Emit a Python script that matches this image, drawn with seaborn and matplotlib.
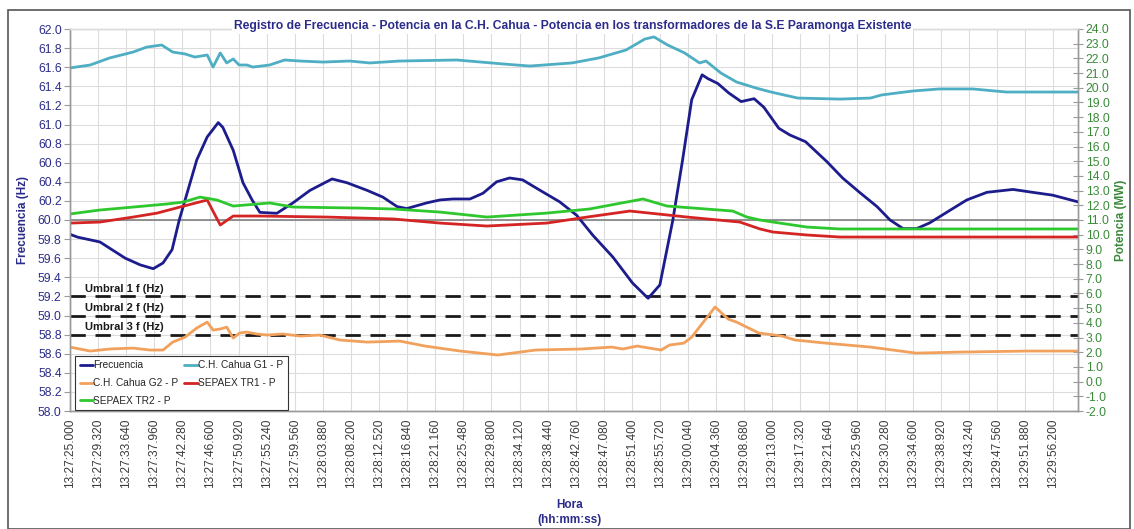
import numpy as np
import pandas as pd
from matplotlib import pyplot as plt
import matplotlib.patches as patches
from matplotlib.lines import Line2D
import seaborn as sns

sns.set_style('white')
plt.rcParams['font.family'] = ['Liberation Sans', 'DejaVu Sans']

# Time axis (seconds after 13:27:25.000) and the category labels shown by Excel
tick_labels = ['13:27:25.000', '13:27:29.320', '13:27:33.640', '13:27:37.960', '13:27:42.280',
               '13:27:46.600', '13:27:50.920', '13:27:55.240', '13:27:59.560', '13:28:03.880',
               '13:28:08.200', '13:28:12.520', '13:28:16.840', '13:28:21.160', '13:28:25.480',
               '13:28:29.800', '13:28:34.120', '13:28:38.440', '13:28:42.760', '13:28:47.080',
               '13:28:51.400', '13:28:55.720', '13:29:00.040', '13:29:04.360', '13:29:08.680',
               '13:29:13.000', '13:29:17.320', '13:29:21.640', '13:29:25.960', '13:29:30.280',
               '13:29:34.600', '13:29:38.920', '13:29:43.240', '13:29:47.560', '13:29:51.880',
               '13:29:56.200']
tick_step = 4.32
t_end = 155.0

# Frecuencia (Hz)
freq_t = [0.0, 1.2, 4.6, 8.5, 10.8, 12.8, 14.3, 15.7, 16.8, 17.7, 19.5, 21.1, 22.8, 23.5, 25.1,
          26.6, 28.0, 29.2, 31.8, 34.3, 36.9, 40.3, 42.6, 45.7, 48.1, 50.3, 51.8, 54.9, 56.9,
          58.9, 61.5, 63.5, 65.6, 67.6, 69.6, 72.3, 75.3, 77.9, 80.4, 83.5, 86.5, 88.9, 90.7,
          92.7, 94.2, 95.6, 97.2, 98.1, 99.6, 101.3, 103.2, 105.2, 106.7, 109.0, 110.7, 113.1,
          116.4, 118.8, 121.4, 124.1, 126.1, 128.1, 130.2, 132.2, 134.8, 137.9, 141.0, 145.0,
          148.0, 151.1, 155.0]
freq_v = [59.85, 59.82, 59.77, 59.60, 59.53, 59.49, 59.55, 59.69, 60.00, 60.21, 60.63, 60.87,
          61.02, 60.97, 60.73, 60.39, 60.21, 60.08, 60.07, 60.18, 60.31, 60.43, 60.39, 60.31,
          60.24, 60.14, 60.12, 60.18, 60.21, 60.22, 60.22, 60.28, 60.40, 60.44, 60.42, 60.31,
          60.19, 60.05, 59.84, 59.61, 59.34, 59.18, 59.32, 60.00, 60.63, 61.26, 61.52, 61.48,
          61.43, 61.33, 61.24, 61.27, 61.18, 60.96, 60.89, 60.82, 60.61, 60.44, 60.29, 60.14,
          60.00, 59.91, 59.91, 59.97, 60.08, 60.21, 60.29, 60.32, 60.29, 60.26, 60.19]

# C.H. Cahua G1 - P (MW)
g1_t = [0.0, 3.1, 6.1, 9.7, 11.8, 14.1, 15.8, 17.7, 19.2, 21.1, 22.0, 23.1, 24.1, 25.1, 26.0,
        27.2, 28.1, 30.7, 33.0, 35.4, 38.9, 43.0, 46.1, 50.7, 59.5, 66.6, 70.7, 77.2, 81.3,
        85.5, 88.4, 89.8, 91.9, 94.5, 96.8, 97.8, 100.1, 102.5, 105.5, 107.8, 111.9, 118.4,
        123.1, 124.8, 129.6, 133.7, 138.8, 144.0, 149.1, 155.0]
g1_v = [21.35, 21.55, 22.03, 22.43, 22.77, 22.91, 22.43, 22.30, 22.09, 22.23, 21.41, 22.37,
        21.69, 21.96, 21.55, 21.55, 21.41, 21.55, 21.89, 21.82, 21.75, 21.82, 21.69, 21.82,
        21.89, 21.62, 21.48, 21.69, 22.03, 22.57, 23.32, 23.46, 22.91, 22.37, 21.69, 21.82,
        21.00, 20.39, 19.98, 19.71, 19.30, 19.23, 19.30, 19.51, 19.78, 19.92, 19.92, 19.71,
        19.71, 19.71]

# C.H. Cahua G2 - P (MW)
g2_t = [0.0, 3.1, 6.1, 9.7, 12.3, 14.3, 15.8, 17.7, 19.5, 21.1, 22.0, 23.1, 24.1, 25.1, 26.1,
        27.2, 28.7, 30.3, 32.7, 35.4, 38.4, 41.5, 45.7, 50.7, 54.6, 60.0, 65.8, 71.6, 78.6,
        83.3, 85.0, 87.2, 90.9, 92.2, 94.4, 95.6, 99.2, 101.2, 102.5, 105.9, 109.5, 111.5,
        116.2, 123.1, 130.1, 136.8, 147.1, 155.0]
g2_v = [2.35, 2.08, 2.22, 2.28, 2.15, 2.15, 2.69, 3.03, 3.65, 4.05, 3.51, 3.58, 3.71, 2.97,
        3.31, 3.37, 3.24, 3.17, 3.24, 3.10, 3.17, 2.83, 2.69, 2.76, 2.42, 2.08, 1.81, 2.15,
        2.22, 2.35, 2.22, 2.42, 2.15, 2.49, 2.62, 3.03, 5.08, 4.26, 4.05, 3.31, 3.10, 2.83,
        2.62, 2.35, 1.94, 2.01, 2.08, 2.08]

# SEPAEX TR1 - P (MW)
tr1_t = [0.0, 4.6, 9.7, 13.4, 16.9, 21.1, 23.1, 25.1, 29.2, 39.5, 49.7, 56.9, 64.1, 73.3,
         79.5, 86.1, 94.9, 103.0, 106.1, 108.1, 113.3, 118.4, 155.0]
tr1_v = [10.79, 10.86, 11.20, 11.47, 11.88, 12.36, 10.66, 11.27, 11.27, 11.20, 11.07, 10.79,
         10.59, 10.79, 11.20, 11.61, 11.20, 10.86, 10.39, 10.18, 9.98, 9.84, 9.84]

# SEPAEX TR2 - P (MW)
tr2_t = [0.0, 4.6, 9.7, 14.9, 17.4, 20.0, 22.6, 25.1, 30.7, 34.3, 44.6, 49.7, 56.9, 64.1,
         73.3, 79.9, 88.1, 91.8, 101.9, 104.1, 106.1, 108.1, 113.3, 118.4, 155.0]
tr2_v = [11.41, 11.68, 11.88, 12.09, 12.22, 12.56, 12.36, 11.95, 12.16, 11.88, 11.81, 11.75,
         11.54, 11.20, 11.47, 11.75, 12.43, 11.95, 11.61, 11.20, 11.00, 10.86, 10.52, 10.39,
         10.39]

# Umbrales de frecuencia (Hz)
umbral_names = ['Umbral 1 f (Hz)', 'Umbral 2 f (Hz)', 'Umbral 3 f (Hz)']
umbral_values = [59.2, 59.0, 58.8]

c_freq = '#1c1c8c'
c_g1 = '#4eaec4'
c_g2 = '#f2a15c'
c_tr1 = '#d42424'
c_tr2 = '#2ec82e'
c_blue_txt = '#2b2b8a'
c_green_txt = '#3a8a3a'

fig = plt.figure(figsize=(11.34, 5.29), dpi=100)
ax = fig.add_axes([70 / 1134, 1 - 411 / 529, 1008 / 1134, 382 / 529])
ax2 = ax.twinx()

# outer frame of the chart
fig.patches.append(patches.Rectangle((8 / 1134, 0.0), 1122 / 1134, 1 - 10 / 529,
                                     transform=fig.transFigure, fill=False,
                                     edgecolor='#555555', linewidth=1.2))

# grid
xticks = np.arange(len(tick_labels)) * tick_step
ax.set_xticks(xticks)
ax.set_xticklabels(tick_labels, rotation=90, fontsize=8.6, color='#3a3a3a')
ax.set_yticks(np.round(np.arange(58.0, 62.01, 0.2), 1))
ax.set_yticklabels([f'{v:.1f}' for v in np.arange(58.0, 62.01, 0.2)], fontsize=8.7, color=c_blue_txt)
ax.grid(True, color='#dcdcdc', linewidth=0.8)
ax.set_axisbelow(True)
ax.set_xlim(0, t_end)
ax.set_ylim(58.0, 62.0)

ax.axhline(60.0, color='#808080', linewidth=1.2, zorder=2)
for name, val in zip(umbral_names, umbral_values):
    ax.axhline(val, color='#1a1a1a', linewidth=2, linestyle=(0, (5.5, 3.5)), zorder=2)
    ax.text(2.3, val + 0.025, name, fontsize=8, fontweight='bold', color='#1a1a1a',
            ha='left', va='bottom')

sns.lineplot(x=freq_t, y=freq_v, ax=ax, color=c_freq, linewidth=2, legend=False, zorder=3)

df_p = pd.DataFrame({'t': g1_t, 'v': g1_v})
sns.lineplot(data=df_p, x='t', y='v', ax=ax2, color=c_g1, linewidth=2, legend=False)
sns.lineplot(x=g2_t, y=g2_v, ax=ax2, color=c_g2, linewidth=2, legend=False)
sns.lineplot(x=tr1_t, y=tr1_v, ax=ax2, color=c_tr1, linewidth=2, legend=False)
sns.lineplot(x=tr2_t, y=tr2_v, ax=ax2, color=c_tr2, linewidth=2, legend=False)

ax2.set_ylim(-2, 24)
ax2.set_yticks(np.arange(-2, 25, 1))
ax2.set_yticklabels([f'{v:.1f}' for v in np.arange(-2, 25, 1)], fontsize=8.7, color=c_green_txt)
ax2.set_xlim(0, t_end)

ax.set_xlabel('')
ax.set_ylabel('Frecuencia (Hz)', fontsize=8.5, fontweight='bold', color=c_blue_txt, labelpad=6)
ax2.set_ylabel('Potencia (MW)', fontsize=8.5, fontweight='bold', color=c_green_txt,
               rotation=90, labelpad=4)

for a in (ax, ax2):
    for s in a.spines.values():
        s.set_color('#9a9a9a')
        s.set_linewidth(1)
    a.spines['top'].set_color('#dcdcdc')
ax.tick_params(axis='y', direction='out', length=4, color='#9a9a9a', pad=2)
ax.tick_params(axis='x', direction='inout', length=5, color='#9a9a9a', pad=3)
ax2.tick_params(axis='y', direction='inout', length=7, color='#9a9a9a', pad=2)

fig.text(0.505, 1 - 26 / 529, 'Registro de Frecuencia - Potencia en la C.H. Cahua - Potencia en los transformadores de la S.E Paramonga Existente',
         ha='center', va='center', fontsize=8.7, fontweight='bold', color=c_blue_txt,
         bbox=dict(facecolor='white', edgecolor='none', pad=1.5))
fig.text(0.502, 1 - 505 / 529, 'Hora', ha='center', va='center', fontsize=8.5,
         fontweight='bold', color=c_blue_txt)
fig.text(0.502, 1 - 520 / 529, '(hh:mm:ss)', ha='center', va='center', fontsize=8.5,
         fontweight='bold', color=c_blue_txt)

handles = [Line2D([0], [0], color=c_freq, lw=2), Line2D([0], [0], color=c_g2, lw=2),
           Line2D([0], [0], color=c_tr2, lw=2), Line2D([0], [0], color=c_g1, lw=2),
           Line2D([0], [0], color=c_tr1, lw=2)]
labels = ['Frecuencia', 'C.H. Cahua G2 - P', 'SEPAEX TR2 - P', 'C.H. Cahua G1 - P', 'SEPAEX TR1 - P']
leg = ax2.legend(handles, labels, ncol=2, loc='lower left', bbox_to_anchor=(0.005, 0.002),
                 fontsize=7.3, frameon=True, fancybox=False, framealpha=1, edgecolor='#333333',
                 handlelength=1.3, handletextpad=0.05, columnspacing=0.6, labelspacing=0.75,
                 borderpad=0.45, borderaxespad=0)
leg.get_frame().set_linewidth(0.8)

fig.savefig('out.png', dpi=100)
